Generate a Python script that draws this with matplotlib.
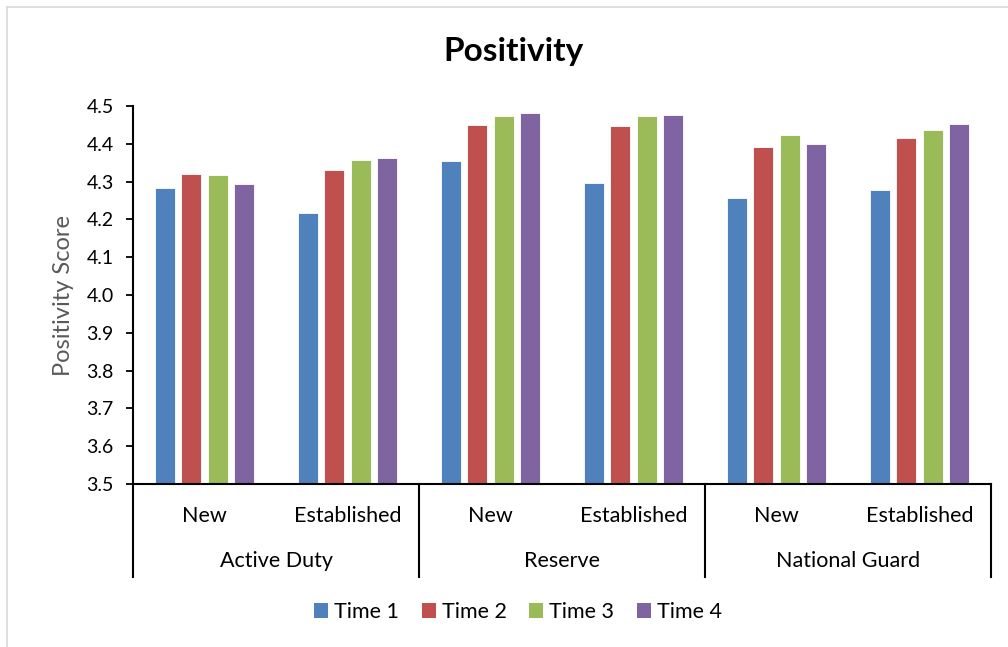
import matplotlib

matplotlib.use("Agg")
import matplotlib.pyplot as plt
from matplotlib.lines import Line2D
from matplotlib.patches import Patch

plt.rcParams["font.family"] = ["Lato", "DejaVu Sans"]

GROUPS = ["Active Duty", "Reserve", "National Guard"]
SUBGROUPS = ["New", "Established"]
SERIES = ["Time 1", "Time 2", "Time 3", "Time 4"]
COLORS = ["#4F81BD", "#C0504D", "#9BBB59", "#8064A2"]

# one list per time point, ordered AD-New, AD-Est, Res-New, Res-Est, NG-New, NG-Est
time1 = [4.284, 4.216, 4.354, 4.297, 4.256, 4.278]
time2 = [4.319, 4.330, 4.449, 4.448, 4.392, 4.415]
time3 = [4.317, 4.356, 4.474, 4.474, 4.422, 4.436]
time4 = [4.294, 4.362, 4.481, 4.475, 4.399, 4.453]
values = [time1, time2, time3, time4]

W, H = 1008, 647
fig = plt.figure(figsize=(W / 100, H / 100), dpi=100)
ax = fig.add_axes([133 / W, 1 - 484 / H, 858 / W, 378 / H])

n = len(time1)
step, width = 0.182, 0.14
for i, (name, vals, c) in enumerate(zip(SERIES, values, COLORS)):
    xs = [k + (i - 1.5) * step for k in range(n)]
    ax.bar(xs, [v - 3.5 for v in vals], width, bottom=3.5, color=c,
           edgecolor="white", linewidth=0.6, label=name)

ax.set_xlim(-0.5, n - 0.5)
ax.set_ylim(3.5, 4.5)
ax.set_yticks([3.5 + 0.1 * k for k in range(11)])
ax.set_yticklabels([f"{3.5 + 0.1 * k:.1f}" for k in range(11)], fontsize=14)
ax.tick_params(axis="y", length=5, width=1.3, direction="out", pad=9)
ax.set_xticks([])
for s in ("top", "right"):
    ax.spines[s].set_visible(False)
for s in ("left", "bottom"):
    ax.spines[s].set_linewidth(1.5)
ax.set_ylabel("Positivity Score", fontsize=17, color="#595959", labelpad=9)

# two-level category axis below the plot
tr = ax.get_xaxis_transform()
for k in range(n):
    ax.text(k, -32 / 378, SUBGROUPS[k % 2], transform=tr, ha="center",
            va="center", fontsize=15.5, clip_on=False)
for g, name in enumerate(GROUPS):
    ax.text(2 * g + 0.5, -77 / 378, name, transform=tr, ha="center",
            va="center", fontsize=15.5, clip_on=False)
for b in range(len(GROUPS) + 1):
    ax.add_line(Line2D([2 * b - 0.5] * 2, [0, -93 / 378], transform=tr,
                       color="black", linewidth=1.5, clip_on=False))

fig.text(514 / W, 1 - 52 / H, "Positivity", ha="center", va="center",
         fontsize=24, fontweight="bold")

handles = [Patch(facecolor=c, edgecolor="none") for c in COLORS]
fig.legend(handles, SERIES, loc="center", bbox_to_anchor=(518 / W, 1 - 612 / H),
           ncol=4, frameon=False, fontsize=15.5, handlelength=0.65,
           handleheight=0.65, handletextpad=0.28, columnspacing=1.05)

# light chart-area border
fig.add_artist(Line2D([7 / W, 7 / W], [0, 1 - 7 / H], transform=fig.transFigure,
                      color="#D9D9D9", linewidth=1.2))
fig.add_artist(Line2D([7 / W, 1], [1 - 7 / H] * 2, transform=fig.transFigure,
                      color="#D9D9D9", linewidth=1.2))

fig.savefig("out.png", dpi=100)
